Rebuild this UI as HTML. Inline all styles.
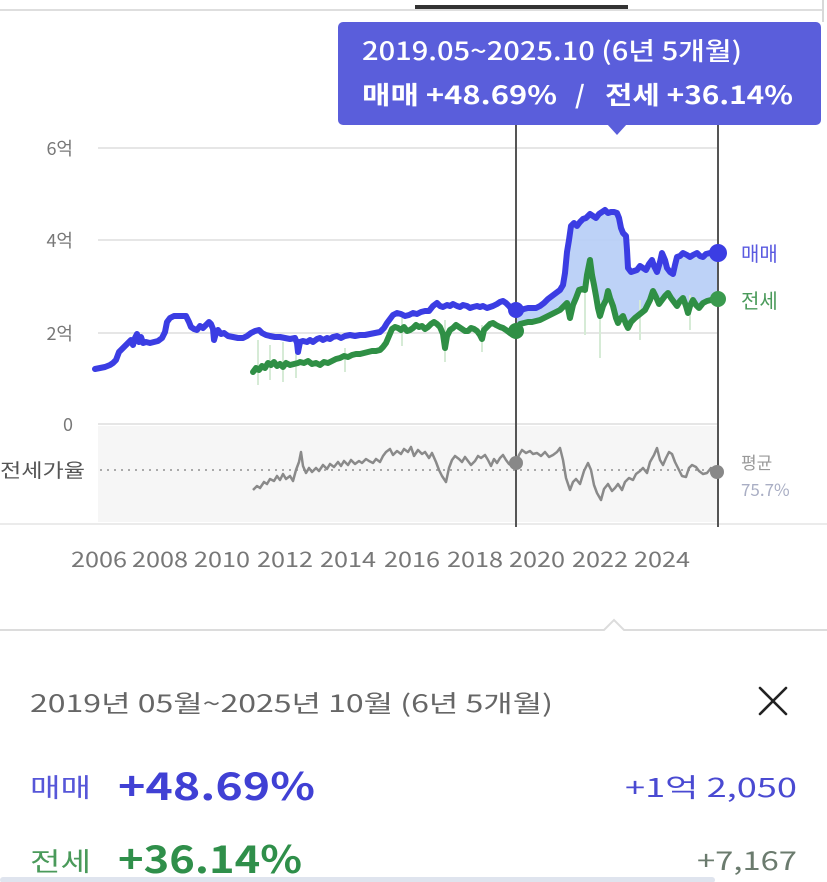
<!DOCTYPE html>
<html><head><meta charset="utf-8"><style>
html,body{margin:0;padding:0;background:#fff;}
svg{display:block;}
text{font-family:"Noto Sans CJK KR","Liberation Sans",sans-serif;}
</style></head><body>
<svg width="827" height="882" viewBox="0 0 827 882" xmlns="http://www.w3.org/2000/svg">
<!-- top bars -->
<rect x="0" y="9" width="823" height="2" fill="#dedede"/>
<rect x="415" y="5" width="213" height="4" fill="#333"/>
<rect x="822" y="0" width="2" height="22" fill="#d8d8d8"/>

<!-- gridlines -->
<g stroke="#e6e6e6" stroke-width="2">
<line x1="98" y1="148" x2="718" y2="148"/>
<line x1="98" y1="240" x2="718" y2="240"/>
<line x1="98" y1="333" x2="718" y2="333"/>
<line x1="98" y1="424" x2="718" y2="424"/>
</g>
<!-- y labels -->
<g font-size="18" fill="#777" text-anchor="end">
<text x="73" y="155">6억</text>
<text x="73" y="247">4억</text>
<text x="73" y="340">2억</text>
<text x="73" y="431">0</text>
</g>

<!-- ratio bg -->
<rect x="98" y="426" width="620" height="96" fill="#f6f6f6"/>
<rect x="0" y="523" width="827" height="2" fill="#ebebeb"/>
<line x1="100" y1="470" x2="718" y2="470" stroke="#aaa" stroke-width="2" stroke-dasharray="2,5"/>
<text x="0" y="477" font-size="19" fill="#555" textLength="85" lengthAdjust="spacingAndGlyphs">전세가율</text>
<text x="741" y="469" font-size="17" fill="#999">평균</text>
<text x="741" y="496" font-size="17" fill="#a9aec4">75.7%</text>

<!-- light blue fill -->
<polygon fill="#b6cdf6" opacity="0.9" points="516,310 520,311 524,309 528,308 532,308 536,308 540,306 544,303 548,299 552,296 556,293 560,290 563,285 565,273 567,252 569,240 571,226 574,223 577,226 580,222 583,219 586,218 590,214 593,216 596,218 599,214 602,212 605,210 608,213 611,212 614,212 617,213 619,218 621,228 623,233 626,236 627,250 628,268 631,272 634,271 637,270 640,266 643,268 646,270 649,264 652,260 654,266 657,272 660,262 662,253 665,260 667,268 670,272 673,274 675,265 677,257 680,256 683,253 687,255 690,257 693,255 697,253 700,256 703,257 706,254 710,253 714,254 718,253 718,299 711,300 707,301 703,303 699,308 696,305 693,300 690,306 688,313 686,306 683,298 680,301 677,306 674,302 671,298 668,293 665,296 662,300 659,304 656,297 653,291 650,300 645,310 640,314 635,318 631,322 628,328 626,324 623,316 620,319 618,323 616,318 613,306 610,298 608,291 606,300 603,306 600,316 598,308 596,296 594,285 592,275 590,260 587,275 585,290 582,289 579,290 576,298 573,305 570,318 567,303 564,306 560,310 556,312 552,314 548,316 544,318 540,320 536,321 532,322 528,322 524,323 520,324 516,331"/>

<!-- faint green spikes -->
<g stroke="#d6ebd6" stroke-width="2">
<line x1="258" y1="340" x2="258" y2="385"/><line x1="270" y1="345" x2="270" y2="380"/>
<line x1="283" y1="342" x2="283" y2="382"/><line x1="296" y1="345" x2="296" y2="378"/>
<line x1="345" y1="348" x2="345" y2="372"/><line x1="402" y1="318" x2="402" y2="346"/>
<line x1="445" y1="320" x2="445" y2="362"/><line x1="482" y1="325" x2="482" y2="352"/>
<line x1="600" y1="300" x2="600" y2="358"/><line x1="585" y1="280" x2="585" y2="335"/>
<line x1="640" y1="300" x2="640" y2="340"/><line x1="690" y1="295" x2="690" y2="330"/>
</g>

<!-- green line -->
<polyline fill="none" stroke="#2f8f45" stroke-width="6" stroke-linejoin="round" stroke-linecap="round" points="253,372 256,368 259,370 262,366 265,368 268,363 271,365 274,362 277,366 280,364 283,367 286,363 290,365 294,364 298,363 300,362 304,363 308,361 312,364 316,363 320,365 324,362 328,363 332,361 336,359 340,358 344,356 348,357 352,355 356,354 360,354 364,353 368,352 372,351 376,351 380,350 383,347 386,343 389,336 392,329 395,327 398,328 401,330 404,327 407,331 410,330 413,328 416,325 419,327 422,326 425,329 428,327 431,324 434,322 437,324 440,327 443,334 445,348 447,336 450,330 453,328 456,325 459,327 462,329 465,331 468,331 471,328 474,329 477,331 480,335 482,339 484,330 487,327 490,324 493,323 496,325 500,327 503,328 506,330 510,333 513,335 516,331 520,324 524,323 528,322 532,322 536,321 540,320 544,318 548,316 552,314 556,312 560,310 564,306 567,303 570,318 573,305 576,298 579,290 582,289 585,290 587,275 590,260 592,275 594,285 596,296 598,308 600,316 603,306 606,300 608,291 610,298 613,306 616,318 618,323 620,319 623,316 626,324 628,328 631,322 635,318 640,314 645,310 650,300 653,291 656,297 659,304 662,300 665,296 668,293 671,298 674,302 677,306 680,301 683,298 686,306 688,313 690,306 693,300 696,305 699,308 703,303 707,301 711,300 718,299"/>

<!-- blue line -->
<polyline fill="none" stroke="#3b3de3" stroke-width="6" stroke-linejoin="round" stroke-linecap="round" points="95,369 100,368 105,367 110,365 113,363 116,360 119,352 122,349 125,346 128,343 131,340 133,345 135,338 137,334 139,342 141,337 143,343 146,342 150,343 154,342 158,341 162,338 165,332 167,322 170,318 174,316 180,316 186,316 189,322 191,327 194,329 197,330 200,326 203,328 206,325 209,322 211,324 213,329 214,340 216,333 218,330 221,334 224,333 228,336 233,337 238,338 243,338 247,336 251,333 255,331 259,330 262,333 266,335 270,336 275,337 280,337 285,338 290,339 295,338 297,343 298,352 300,342 303,341 307,342 310,340 313,342 317,339 320,338 323,340 327,338 330,339 333,337 337,336 341,338 345,336 350,335 355,336 360,335 365,335 370,334 375,333 380,332 384,328 387,323 390,319 393,315 397,313 401,314 405,316 409,315 413,313 417,314 421,312 425,311 429,311 433,306 437,303 440,306 443,307 447,305 450,306 453,304 457,306 460,307 463,305 467,306 470,308 473,307 477,306 480,307 483,306 487,308 490,307 493,306 497,304 500,302 503,301 506,303 509,306 512,310 516,310 520,311 524,309 528,308 532,308 536,308 540,306 544,303 548,299 552,296 556,293 560,290 563,285 565,273 567,252 569,240 571,226 574,223 577,226 580,222 583,219 586,218 590,214 593,216 596,218 599,214 602,212 605,210 608,213 611,212 614,212 617,213 619,218 621,228 623,233 626,236 627,250 628,268 631,272 634,271 637,270 640,266 643,268 646,270 649,264 652,260 654,266 657,272 660,262 662,253 665,260 667,268 670,272 673,274 675,265 677,257 680,256 683,253 687,255 690,257 693,255 697,253 700,256 703,257 706,254 710,253 714,254 718,253"/>

<!-- ratio line -->
<polyline fill="none" stroke="#8a8a8a" stroke-width="2.5" stroke-linejoin="round" points="253,490 257,486 260,488 264,482 267,484 270,479 274,481 277,476 280,480 283,474 286,479 290,476 293,481 296,470 299,462 301,452 303,466 306,473 309,468 312,472 316,468 319,471 323,465 327,469 330,464 334,467 338,462 341,466 344,461 348,465 351,460 355,464 359,461 362,463 366,459 369,461 373,463 376,459 380,462 383,456 386,452 390,449 393,455 397,451 401,454 404,449 408,452 411,447 414,456 418,450 422,454 425,452 429,458 432,453 436,462 439,470 442,476 446,482 449,468 452,460 455,456 459,459 462,462 465,457 468,461 471,465 475,461 478,456 481,458 485,455 488,460 491,466 494,459 497,463 500,458 503,455 506,460 509,464 512,466 516,463 519,455 522,450 526,453 530,451 533,454 537,453 541,456 545,452 549,457 553,455 557,452 560,448 563,460 566,478 570,490 573,482 576,479 580,484 584,471 588,463 591,470 594,485 597,493 601,500 604,489 608,484 612,491 615,488 618,484 622,490 625,482 629,478 633,480 636,474 640,471 643,468 647,473 650,462 654,455 657,448 660,460 663,465 666,458 669,452 672,454 675,462 679,470 682,476 686,477 689,468 692,465 696,467 699,471 703,474 707,473 711,468 714,470 717,472"/>

<!-- vertical selection lines -->
<line x1="516" y1="125" x2="516" y2="527" stroke="#555" stroke-width="2"/>
<line x1="718" y1="125" x2="718" y2="527" stroke="#555" stroke-width="2"/>

<!-- dots -->
<circle cx="516" cy="310" r="8" fill="#3b3de3"/>
<circle cx="516" cy="331" r="8" fill="#2f8f45"/>
<circle cx="718" cy="253" r="9" fill="#3b3de3"/>
<circle cx="718" cy="299" r="8" fill="#3a9a4e"/>
<circle cx="516" cy="463" r="7" fill="#888"/>
<circle cx="717" cy="472" r="7" fill="#888"/>

<!-- series labels -->
<text x="741" y="261" font-size="20" fill="#5a5ae0">매매</text>
<text x="741" y="308" font-size="20" fill="#4a9a5a">전세</text>

<!-- x labels -->
<g font-size="21" fill="#777" text-anchor="middle">
<text x="99" y="567" textLength="56" lengthAdjust="spacingAndGlyphs">2006</text>
<text x="160" y="567" textLength="56" lengthAdjust="spacingAndGlyphs">2008</text>
<text x="222" y="567" textLength="56" lengthAdjust="spacingAndGlyphs">2010</text>
<text x="285" y="567" textLength="56" lengthAdjust="spacingAndGlyphs">2012</text>
<text x="348" y="567" textLength="56" lengthAdjust="spacingAndGlyphs">2014</text>
<text x="412" y="567" textLength="56" lengthAdjust="spacingAndGlyphs">2016</text>
<text x="475" y="567" textLength="56" lengthAdjust="spacingAndGlyphs">2018</text>
<text x="537" y="567" textLength="56" lengthAdjust="spacingAndGlyphs">2020</text>
<text x="600" y="567" textLength="56" lengthAdjust="spacingAndGlyphs">2022</text>
<text x="662" y="567" textLength="56" lengthAdjust="spacingAndGlyphs">2024</text>
</g>

<!-- tooltip -->
<rect x="338" y="22" width="483" height="103" rx="5" fill="#5a5edb"/>
<polygon points="607,124 627,124 617,135" fill="#5a5edb"/>
<text x="362" y="60" font-size="25" font-weight="500" fill="#fff" textLength="380" lengthAdjust="spacingAndGlyphs">2019.05~2025.10 (6년 5개월)</text>
<text x="362" y="104" font-size="25" font-weight="bold" fill="#fff" textLength="195" lengthAdjust="spacingAndGlyphs">매매 +48.69%</text>
<text x="575" y="104" font-size="25" font-weight="bold" fill="#fff">/</text>
<text x="605" y="104" font-size="25" font-weight="bold" fill="#fff" textLength="188" lengthAdjust="spacingAndGlyphs">전세 +36.14%</text>

<!-- separator with notch -->
<polyline fill="none" stroke="#dcdcdc" stroke-width="2" points="0,630 604,630 614,620 624,630 827,630"/>

<!-- bottom panel -->
<text x="30" y="712" font-size="24" fill="#666" textLength="523" lengthAdjust="spacingAndGlyphs">2019년 05월~2025년 10월 (6년 5개월)</text>
<g stroke="#222" stroke-width="2.6" stroke-linecap="round">
<line x1="760" y1="688" x2="786" y2="714"/>
<line x1="786" y1="688" x2="760" y2="714"/>
</g>
<text x="30" y="797" font-size="26" fill="#5656d8" textLength="61" lengthAdjust="spacingAndGlyphs">매매</text>
<text x="118" y="800" font-size="38" font-weight="bold" fill="#4040d4" textLength="197" lengthAdjust="spacingAndGlyphs">+48.69%</text>
<text x="797" y="797" font-size="26" fill="#4a4ad2" text-anchor="end" textLength="172" lengthAdjust="spacingAndGlyphs">+1억 2,050</text>
<text x="30" y="871" font-size="26" fill="#4a9a5a" textLength="61" lengthAdjust="spacingAndGlyphs">전세</text>
<text x="118" y="873" font-size="38" font-weight="bold" fill="#2f8f4a" textLength="184" lengthAdjust="spacingAndGlyphs">+36.14%</text>
<text x="797" y="870" font-size="26" fill="#6b7b6e" text-anchor="end" textLength="100" lengthAdjust="spacingAndGlyphs">+7,167</text>

<rect x="0" y="877" width="715" height="6" rx="3" fill="#dfe4ee"/>
</svg>
</body></html>
